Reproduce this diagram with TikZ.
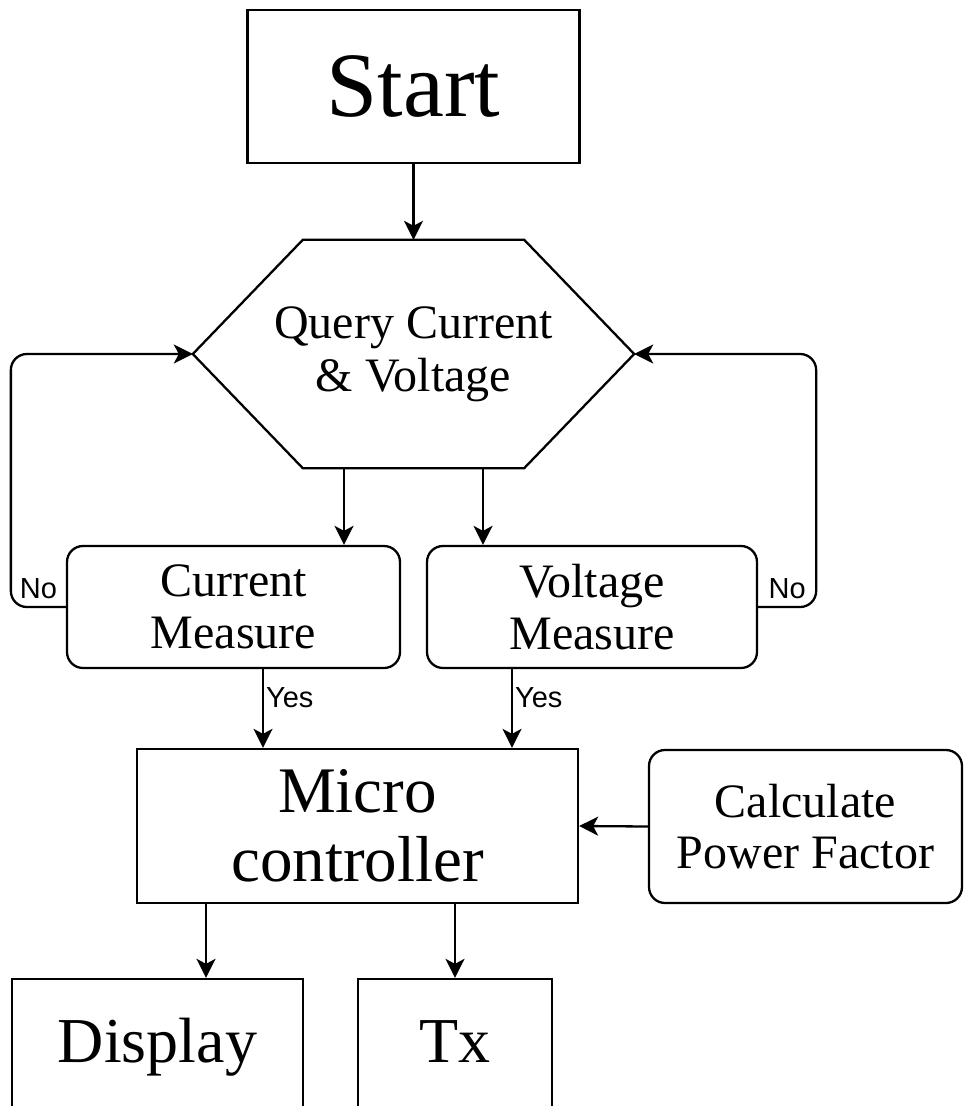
\documentclass[tikz,border=0pt]{standalone}
\usepackage{fontspec}
\setmainfont{Liberation Serif}
\newfontfamily\lblfont{Liberation Sans}
\usetikzlibrary{arrows.meta,calc}
\newcommand\fsz[2]{\fontsize{#1}{#2}\selectfont}
\tikzset{
  sqbox/.style={draw,line width=2.3pt,inner sep=0pt,align=center},
  rndbox/.style={sqbox,rounded corners=16pt},
  flow/.style={line width=2.3pt,-{Stealth[length=19pt,width=19pt,inset=5pt]}},
  yesno/.style={font=\lblfont\fsz{29}{32},inner sep=2pt},
}

\begin{document}
\begin{tikzpicture}[x=1pt,y=1pt]
  \useasboundingbox (0,0) rectangle (971,-1106);
  \clip (0,0) rectangle (971,-1106);
  \node[sqbox,minimum width=332pt,minimum height=153pt,font=\fsz{92}{96}] (start) at (413.5,-86.5) {Start};
  \node[inner sep=0pt,align=center,minimum width=441pt,minimum height=228pt,font=\fsz{48}{53}] (query) at (413.5,-354) {Query Current\\\& Voltage};
  \draw[line width=2.3pt,line join=miter] (query.west) -- ([xshift=110pt]query.north west) -- ([xshift=-110pt]query.north east)
    -- (query.east) -- ([xshift=-110pt]query.south east) -- ([xshift=110pt]query.south west) -- cycle;
  \node[rndbox,minimum width=333pt,minimum height=122pt,font=\fsz{48}{52}] (cur) at (233.5,-607) {Current\\Measure};
  \node[rndbox,minimum width=330pt,minimum height=122pt,font=\fsz{48}{52}] (volt) at (592,-607) {Voltage\\Measure};
  \node[sqbox,minimum width=441pt,minimum height=154pt,font=\fsz{65}{69}] (micro) at (357.5,-826) {Micro\\controller};
  \node[rndbox,minimum width=313pt,minimum height=153pt,font=\fsz{48}{51}] (calc) at (805.5,-826.5) {Calculate\\Power Factor};
  \node[sqbox,minimum width=291pt,minimum height=136pt,text height=44pt,text depth=14pt,font=\fsz{64}{68}] (disp) at (157.5,-1047) {Display};
  \node[sqbox,minimum width=194pt,minimum height=136pt,text height=44pt,text depth=14pt,font=\fsz{64}{68}] (tx) at (455,-1047) {Tx};

  \draw[flow] (start.south) -- (query.north);
  \draw[flow] ([xshift=-69.5pt]query.south) -- ([xshift=-69.5pt]query.south |- cur.north);
  \draw[flow] ([xshift=69.5pt]query.south) -- ([xshift=69.5pt]query.south |- volt.north);
  \draw[flow,rounded corners=16pt] (cur.west) -- node[yesno,above=5pt] {No} ++(-55,0) |- (query.west);
  \draw[flow,rounded corners=16pt] (volt.east) -- node[yesno,above=5pt] {No} ++(58,0) |- (query.east);
  \draw[flow] ([xshift=29.5pt]cur.south) -- node[yesno,right,pos=0.36] {Yes} ([xshift=29.5pt]cur.south |- micro.north);
  \draw[flow] ([xshift=-80pt]volt.south) -- node[yesno,right,pos=0.36] {Yes} ([xshift=-80pt]volt.south |- micro.north);
  \draw[flow] (calc.west) -- (micro.east);
  \draw[flow] ([xshift=-151.5pt]micro.south) -- ([xshift=-151.5pt]micro.south |- disp.north);
  \draw[flow] ([xshift=97.5pt]micro.south) -- (tx.north);
\end{tikzpicture}
\end{document}
